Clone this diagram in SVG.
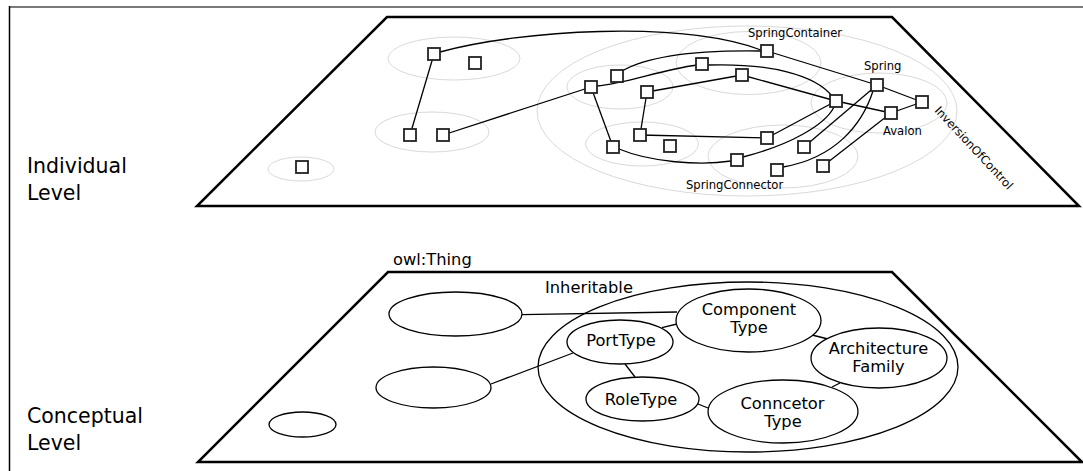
<svg xmlns="http://www.w3.org/2000/svg" width="1083" height="471" viewBox="0 0 1083 471">
<style>
text{font-family:"DejaVu Sans","Liberation Sans",sans-serif;fill:#000}
.lvl{font-size:20.5px}
.big{font-size:16.3px}
.sm{font-size:11.6px}
.plane{fill:none;stroke:#000;stroke-width:2.5;stroke-linejoin:miter}
.grp{fill:none;stroke:#d9d9d9;stroke-width:1}
.cls{fill:#fff;stroke:#000;stroke-width:1.3}
.sq{fill:#fff;stroke:#222;stroke-width:1.8}
.ln{fill:none;stroke:#000;stroke-width:1.3}
.mid{text-anchor:middle}
</style>
<defs>
<rect id="sq" x="-6" y="-6" width="12" height="12" class="sq"/>
</defs>
<line x1="9" y1="7" x2="1083" y2="7" stroke="#7a7a7a" stroke-width="2"/>
<line x1="9.5" y1="6" x2="9.5" y2="471" stroke="#000" stroke-width="1.5"/>

<g id="individual-level">
<polygon class="plane" points="387,17 892,17 1079,206 197,206"/>
<text class="lvl" x="27" y="173">Individual</text>
<text class="lvl" x="27" y="200">Level</text>
<g id="groups">
<ellipse class="grp" cx="454" cy="58.5" rx="66" ry="21.5"/>
<ellipse class="grp" cx="432" cy="132" rx="57" ry="20"/>
<ellipse class="grp" cx="301" cy="169" rx="33" ry="12"/>
<ellipse class="grp" cx="747" cy="111" rx="210" ry="85"/>
<ellipse class="grp" cx="748.5" cy="63" rx="72.5" ry="31.5"/>
<ellipse class="grp" cx="620" cy="87" rx="53" ry="22"/>
<ellipse class="grp" cx="642" cy="144" rx="56.5" ry="22"/>
<ellipse class="grp" cx="783" cy="156.5" rx="75" ry="31.5"/>
<ellipse class="grp" cx="879" cy="103" rx="68" ry="30"/>
</g>
<g id="instance-connectors">
<path class="ln" d="M434,54 L410,135"/>
<path class="ln" d="M440,52 C520,30 680,20 761,50"/>
<path class="ln" d="M443,135 L591,87"/>
<path class="ln" d="M591,87 L613,147"/>
<path class="ln" d="M597,86 C625,84 660,70 697,65"/>
<path class="ln" d="M622,71 C650,55 700,50 761,51"/>
<path class="ln" d="M708,65 C770,63 815,75 832,96"/>
<path class="ln" d="M767,51 L877,85"/>
<path class="ln" d="M647,92 L742,75"/>
<path class="ln" d="M647,92 L640,135"/>
<path class="ln" d="M742,75 L836,101"/>
<path class="ln" d="M640,135 L767,138"/>
<path class="ln" d="M767,138 L836,101"/>
<path class="ln" d="M619,149 C650,162 700,166 731,161"/>
<path class="ln" d="M743,157 C790,145 825,125 834,107"/>
<path class="ln" d="M804,147 L877,85"/>
<path class="ln" d="M873,91 C862,125 835,158 783,167"/>
<path class="ln" d="M836,101 L891,113"/>
<path class="ln" d="M891,113 L922,102"/>
<path class="ln" d="M877,85 L922,102"/>
<path class="ln" d="M891,113 L823,166"/>
</g>
<g id="instances">
<use href="#sq" x="434" y="54"/>
<use href="#sq" x="475" y="63"/>
<use href="#sq" x="410" y="135"/>
<use href="#sq" x="443" y="135"/>
<use href="#sq" x="302" y="167"/>
<use href="#sq" x="767" y="51"/>
<use href="#sq" x="702" y="64"/>
<use href="#sq" x="617" y="76"/>
<use href="#sq" x="591" y="87"/>
<use href="#sq" x="742" y="75"/>
<use href="#sq" x="647" y="92"/>
<use href="#sq" x="836" y="101"/>
<use href="#sq" x="877" y="85"/>
<use href="#sq" x="891" y="113"/>
<use href="#sq" x="922" y="102"/>
<use href="#sq" x="640" y="135"/>
<use href="#sq" x="670" y="146"/>
<use href="#sq" x="613" y="147"/>
<use href="#sq" x="767" y="138"/>
<use href="#sq" x="804" y="147"/>
<use href="#sq" x="737" y="160"/>
<use href="#sq" x="777" y="170"/>
<use href="#sq" x="823" y="166"/>
</g>
<text class="sm" x="748" y="37">SpringContainer</text>
<text class="sm" x="864" y="70">Spring</text>
<text class="sm" x="883" y="135">Avalon</text>
<text class="sm" x="686" y="189">SpringConnector</text>
<text class="sm" transform="translate(934,111) rotate(47)">InversionOfControl</text>
</g>

<g id="conceptual-level">
<polygon class="plane" points="388,272 892,272 1082,462 198,462"/>
<text class="lvl" x="27" y="423">Conceptual</text>
<text class="lvl" x="27" y="450">Level</text>
<text class="big" x="393" y="265">owl:Thing</text>
</g>

<g id="connectors">
<line class="ln" x1="522" y1="314.7" x2="677" y2="312"/>
<line class="ln" x1="491" y1="384" x2="573" y2="353"/>
<line class="ln" x1="662" y1="327.7" x2="677" y2="324"/>
<line class="ln" x1="625" y1="364" x2="635" y2="377"/>
<line class="ln" x1="698" y1="404" x2="708" y2="408"/>
<line class="ln" x1="812" y1="335" x2="828" y2="339"/>
<line class="ln" x1="840" y1="383" x2="832" y2="387"/>
</g>

<g id="inheritable">
<ellipse cx="748" cy="367" rx="210" ry="85" fill="none" stroke="#000" stroke-width="1.3"/>
<text class="big" x="545" y="292.5">Inheritable</text>
</g>
<g id="thing-a"><ellipse class="cls" cx="455.5" cy="314" rx="66.5" ry="22"/></g>
<g id="thing-b"><ellipse class="cls" cx="433.5" cy="387.5" rx="57.5" ry="20.5"/></g>
<g id="thing-c"><ellipse class="cls" cx="302.5" cy="424.5" rx="33.5" ry="12.5"/></g>
<g id="component-type">
<ellipse class="cls" cx="748.5" cy="320.5" rx="72.5" ry="31.5"/>
<text class="big mid" x="749" y="315">Component</text>
<text class="big mid" x="749" y="332.5">Type</text>
</g>
<g id="port-type">
<ellipse class="cls" cx="620" cy="342" rx="53" ry="22"/>
<text class="big mid" x="621" y="345.5">PortType</text>
</g>
<g id="role-type">
<ellipse class="cls" cx="642.5" cy="399" rx="56.5" ry="22"/>
<text class="big mid" x="641" y="405">RoleType</text>
</g>
<g id="connector-type">
<ellipse class="cls" cx="783" cy="411.5" rx="75" ry="31.5"/>
<text class="big mid" x="782.5" y="409">Conncetor</text>
<text class="big mid" x="783" y="426.5">Type</text>
</g>
<g id="architecture-family">
<ellipse class="cls" cx="879" cy="358" rx="68" ry="30"/>
<text class="big mid" x="878.5" y="354">Architecture</text>
<text class="big mid" x="878.5" y="372">Family</text>
</g>
</svg>
